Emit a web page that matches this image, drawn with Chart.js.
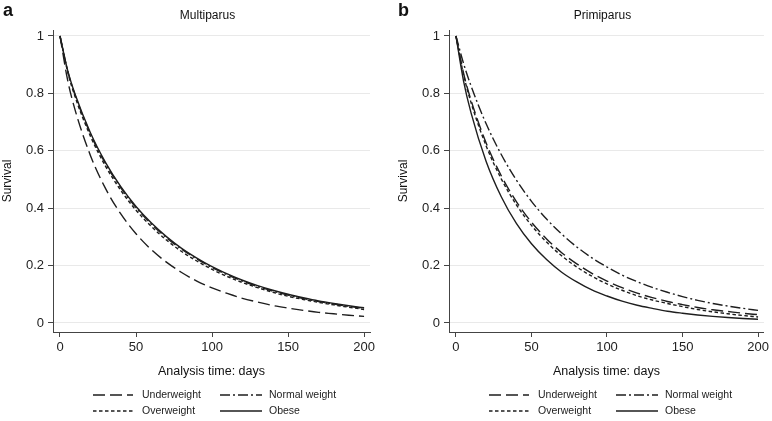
<!DOCTYPE html>
<html>
<head>
<meta charset="utf-8">
<script src="https://cdn.jsdelivr.net/npm/chart.js@4.4.0/dist/chart.umd.min.js"></script>
<style>
    html, body { margin: 0; padding: 0; background: #fff; }
    #wrap { display: flex; width: 772px; height: 421px; }
    .panel { position: relative; width: 386px; height: 421px; }
</style>
</head>
<body>
<div id="wrap">
    <div class="panel"><canvas id="chartA"></canvas></div>
    <div class="panel"><canvas id="chartB"></canvas></div>
</div>
<script>
// ===============================
// DATA
// ===============================
const days = [0, 5, 10, 20, 30, 40, 50, 60, 70, 80, 90, 100, 110, 120, 130, 140, 150, 160, 170, 180, 190, 200];
const xTicks = [0, 50, 100, 150, 200];
const yTicks = [0, 0.2, 0.4, 0.6, 0.8, 1];
const groups = ["Underweight", "Normal weight", "Overweight", "Obese"];

// Multiparus
const multiUnder  = [1, 0.847, 0.741, 0.584, 0.468, 0.38, 0.311, 0.256, 0.212, 0.176, 0.146, 0.122, 0.103, 0.086, 0.073, 0.061, 0.052, 0.044, 0.037, 0.032, 0.027, 0.023];
const multiNormal = [1, 0.879, 0.793, 0.659, 0.555, 0.471, 0.402, 0.345, 0.297, 0.257, 0.223, 0.193, 0.168, 0.146, 0.127, 0.111, 0.097, 0.085, 0.075, 0.066, 0.058, 0.051];
const multiOver   = [1, 0.876, 0.787, 0.651, 0.546, 0.462, 0.393, 0.337, 0.289, 0.249, 0.216, 0.187, 0.162, 0.141, 0.123, 0.107, 0.093, 0.082, 0.072, 0.063, 0.055, 0.047];
const multiObese  = [1, 0.881, 0.796, 0.663, 0.559, 0.475, 0.406, 0.349, 0.301, 0.26, 0.226, 0.196, 0.171, 0.149, 0.13, 0.114, 0.1, 0.088, 0.077, 0.068, 0.06, 0.053];

// Primiparus
const primiUnder  = [1, 0.871, 0.776, 0.627, 0.513, 0.423, 0.351, 0.293, 0.245, 0.206, 0.173, 0.146, 0.123, 0.104, 0.0885, 0.075, 0.064, 0.054, 0.046, 0.04, 0.034, 0.029];
const primiNormal = [1, 0.905, 0.826, 0.694, 0.587, 0.498, 0.424, 0.362, 0.31, 0.265, 0.227, 0.195, 0.167, 0.144, 0.124, 0.107, 0.092, 0.079, 0.068, 0.059, 0.051, 0.044];
const primiOver   = [1, 0.866, 0.768, 0.617, 0.502, 0.412, 0.34, 0.282, 0.234, 0.195, 0.163, 0.136, 0.114, 0.095, 0.08, 0.068, 0.057, 0.047, 0.039, 0.032, 0.026, 0.021];
const primiObese  = [1, 0.844, 0.732, 0.563, 0.44, 0.347, 0.276, 0.221, 0.177, 0.143, 0.115, 0.094, 0.076, 0.062, 0.051, 0.041, 0.034, 0.028, 0.023, 0.019, 0.0155, 0.013];

// ===============================
// STYLE
// ===============================
const FONT = "'Liberation Sans', Arial, sans-serif";
const INK = "#1e1e1e";
const dashes = [[12, 5], [10, 3, 2, 3], [3.5, 2.5], []];

const toPoints = ys => days.map((d, i) => ({ x: d, y: ys[i] }));

function makeDatasets(series) {
    return series.map((ys, i) => ({
        label: groups[i],
        data: toPoints(ys),
        borderColor: INK,
        borderWidth: 1.4,
        borderDash: dashes[i],
        pointRadius: 0,
        fill: false,
        cubicInterpolationMode: "monotone"
    }));
}

// title, panel letter and the 2x2 legend under the plot
const panelDecor = {
    id: "panelDecor",
    afterDraw(chart, args, opts) {
        const ctx = chart.ctx;
        const area = chart.chartArea;
        ctx.save();
        ctx.fillStyle = "#111";
        ctx.textBaseline = "middle";

        ctx.font = "bold 18px " + FONT;
        ctx.textAlign = "left";
        ctx.fillText(opts.letter, opts.letterX, 11);

        ctx.font = "12px " + FONT;
        ctx.textAlign = "center";
        ctx.fillText(opts.title, (area.left + area.right) / 2 - 4, 16);

        ctx.font = "10.5px " + FONT;
        ctx.textAlign = "left";
        ctx.strokeStyle = INK;
        ctx.lineWidth = 1.3;
        const cols = [{ s: 40, e: 80, t: 89 }, { s: 167, e: 209, t: 216 }];
        const rows = [395, 411];
        chart.data.datasets.forEach((ds, i) => {
            const c = cols[i % 2];
            const y = rows[Math.floor(i / 2)];
            ctx.setLineDash(ds.borderDash);
            ctx.beginPath();
            ctx.moveTo(area.left + c.s, y);
            ctx.lineTo(area.left + c.e, y);
            ctx.stroke();
            ctx.setLineDash([]);
            ctx.fillStyle = "#222";
            ctx.fillText(ds.label, area.left + c.t, y);
        });
        ctx.restore();
    }
};

function makeChart(id, series, title, letter, letterX, padLeft, padRight) {
    return new Chart(document.getElementById(id), {
        type: "line",
        data: { datasets: makeDatasets(series) },
        plugins: [panelDecor],
        options: {
            responsive: true,
            maintainAspectRatio: false,
            animation: false,
            layout: { padding: { left: padLeft, right: padRight, top: 30, bottom: 42 } },
            plugins: {
                legend: { display: false },
                tooltip: { enabled: false },
                panelDecor: { title, letter, letterX }
            },
            scales: {
                x: {
                    type: "linear",
                    min: -4.6,
                    max: 203.9,
                    afterBuildTicks: s => { s.ticks = xTicks.map(v => ({ value: v })); },
                    afterFit: s => { s.height = 47; },
                    grid: { color: "rgba(0,0,0,0)", tickColor: "#444", tickLength: 5, drawOnChartArea: false },
                    border: { display: true, color: "#444", width: 1 },
                    ticks: { color: "#222", font: { family: FONT, size: 13 }, padding: 3, maxRotation: 0, callback: v => String(v) },
                    title: { display: true, text: "Analysis time: days", color: "#111", font: { family: FONT, size: 12.5 }, padding: 0 }
                },
                y: {
                    type: "linear",
                    min: -0.0314,
                    max: 1.0209,
                    afterBuildTicks: s => { s.ticks = yTicks.map(v => ({ value: v })); },
                    afterFit: s => { s.width = 53; },
                    grid: { color: "#e9e9e9", lineWidth: 1, tickColor: "#444", tickLength: 5 },
                    border: { display: true, color: "#444", width: 1 },
                    ticks: { color: "#222", font: { family: FONT, size: 13 }, padding: 4, callback: v => String(v) },
                    title: { display: true, text: "Survival", color: "#111", font: { family: FONT, size: 12 }, padding: 0 }
                }
            }
        }
    });
}

makeChart("chartA", [multiUnder, multiNormal, multiOver, multiObese], "Multiparus", "a", 3, 0, 16);
makeChart("chartB", [primiUnder, primiNormal, primiOver, primiObese], "Primiparus", "b", 12, 10, 6);
</script>
</body>
</html>
